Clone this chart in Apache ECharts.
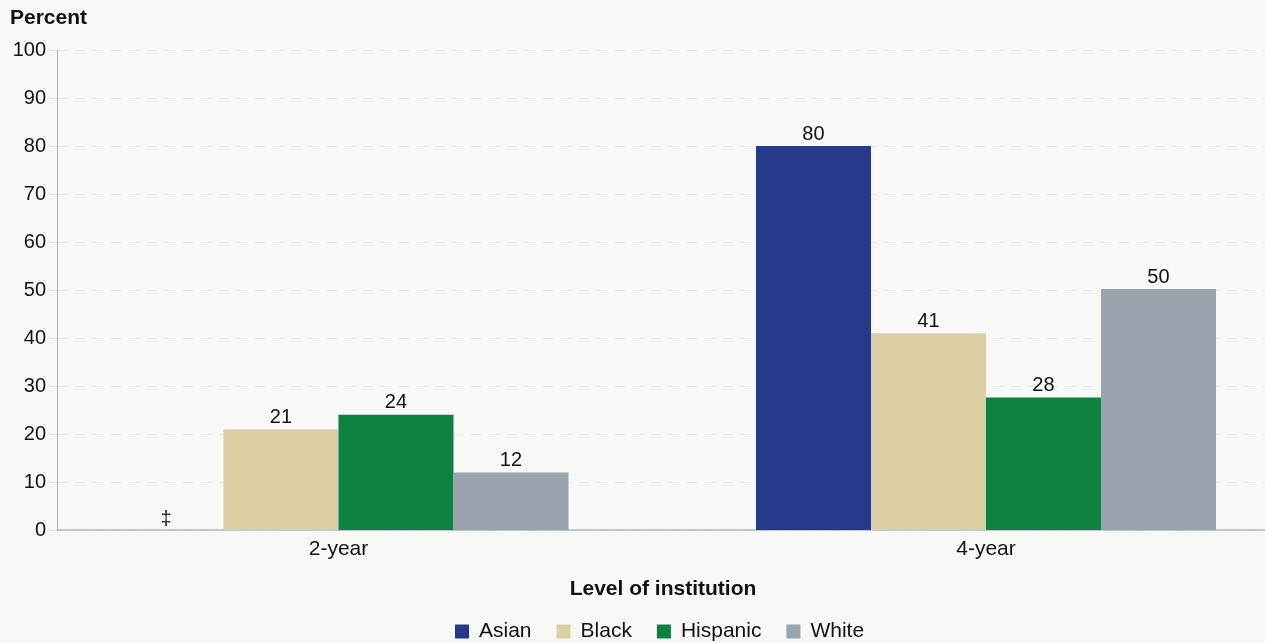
<!DOCTYPE html>
<html>
<head>
<meta charset="utf-8">
<script src="https://cdn.jsdelivr.net/npm/echarts@6/dist/echarts.min.js"></script>
<style>
html,body{margin:0;padding:0;background:#f8f8f7;}
#chart{width:1265px;height:643px;}
</style>
</head>
<body>
<div id="chart"></div>
<script>
var categories = ['2-year', '4-year'];
var seriesNames = ['Asian', 'Black', 'Hispanic', 'White'];
var asian = [null, 80];
var black = [21, 41];
var hispanic = [24, 27.6];
var white = [12, 50.2];
var colors = ['#27398a', '#dbcfa3', '#0e8141', '#9aa4ae'];
var yTicks = [0, 10, 20, 30, 40, 50, 60, 70, 80, 90, 100];

var FONT = '"Liberation Sans", Arial, Helvetica, sans-serif';
var chart = echarts.init(document.getElementById('chart'));

function mk(name, vals, color) {
  return {
    name: name,
    type: 'bar',
    barWidth: 115,
    barGap: '0%',
    itemStyle: { color: color },
    data: vals.map(function (v, i) {
      if (v === null) {
        return { value: [i, 0], label: { show: true, formatter: '\u2021', position: 'top', distance: 1 } };
      }
      return [i, v];
    }),
    label: {
      show: true,
      position: 'top',
      distance: 2,
      color: '#111',
      fontSize: 20,
      fontFamily: FONT,
      formatter: function (p) { return Math.round(p.value[1]); }
    }
  };
}

var option = {
  backgroundColor: '#f8f8f7',
  animation: false,
  textStyle: { fontFamily: FONT },
  grid: { left: 57, right: 0, top: 50, bottom: 113 },
  title: [
    { text: 'Percent', left: 10, top: 8, padding: 0, textStyle: { fontSize: 21, fontWeight: 'bold', color: '#111', fontFamily: FONT } },
    { text: 'Level of institution', left: 663, textAlign: 'center', top: 579, padding: 0, textStyle: { fontSize: 21, fontWeight: 'bold', color: '#111', fontFamily: FONT } }
  ],
  legend: {
    data: seriesNames,
    top: 616,
    left: 450,
    icon: 'rect',
    itemWidth: 14,
    itemHeight: 14,
    itemGap: 25,
    textStyle: { fontSize: 21, color: '#111', fontFamily: FONT, padding: [0, 0, 0, 5] }
  },
  xAxis: {
    type: 'value',
    min: -0.4347,
    max: 1.4309,
    axisLine: { show: true, onZero: false, lineStyle: { color: '#a9b6c3', width: 1.5 } },
    axisTick: { show: false },
    splitLine: { show: false },
    axisLabel: {
      fontSize: 21, color: '#111', margin: 9, fontFamily: FONT,
      customValues: [0, 1],
      formatter: function (v) { return categories[Math.round(v)] || ''; }
    }
  },
  yAxis: {
    type: 'value', min: 0, max: 100, interval: 10,
    axisLine: { show: true, onZero: false, lineStyle: { color: '#a9b6c3', width: 1 } },
    axisTick: { show: true, length: 7, lineStyle: { color: '#d8dde2' } },
    axisLabel: { fontSize: 20, color: '#111', margin: 11, fontFamily: FONT,
      formatter: function (v) { return yTicks.indexOf(v) >= 0 ? String(v) : ''; } },
    splitLine: { show: true, lineStyle: { color: '#e6e8ea', type: [10, 8], width: 1 } }
  },
  series: [
    mk(seriesNames[0], asian, colors[0]),
    mk(seriesNames[1], black, colors[1]),
    mk(seriesNames[2], hispanic, colors[2]),
    mk(seriesNames[3], white, colors[3])
  ]
};
chart.setOption(option);
</script>
</body>
</html>
